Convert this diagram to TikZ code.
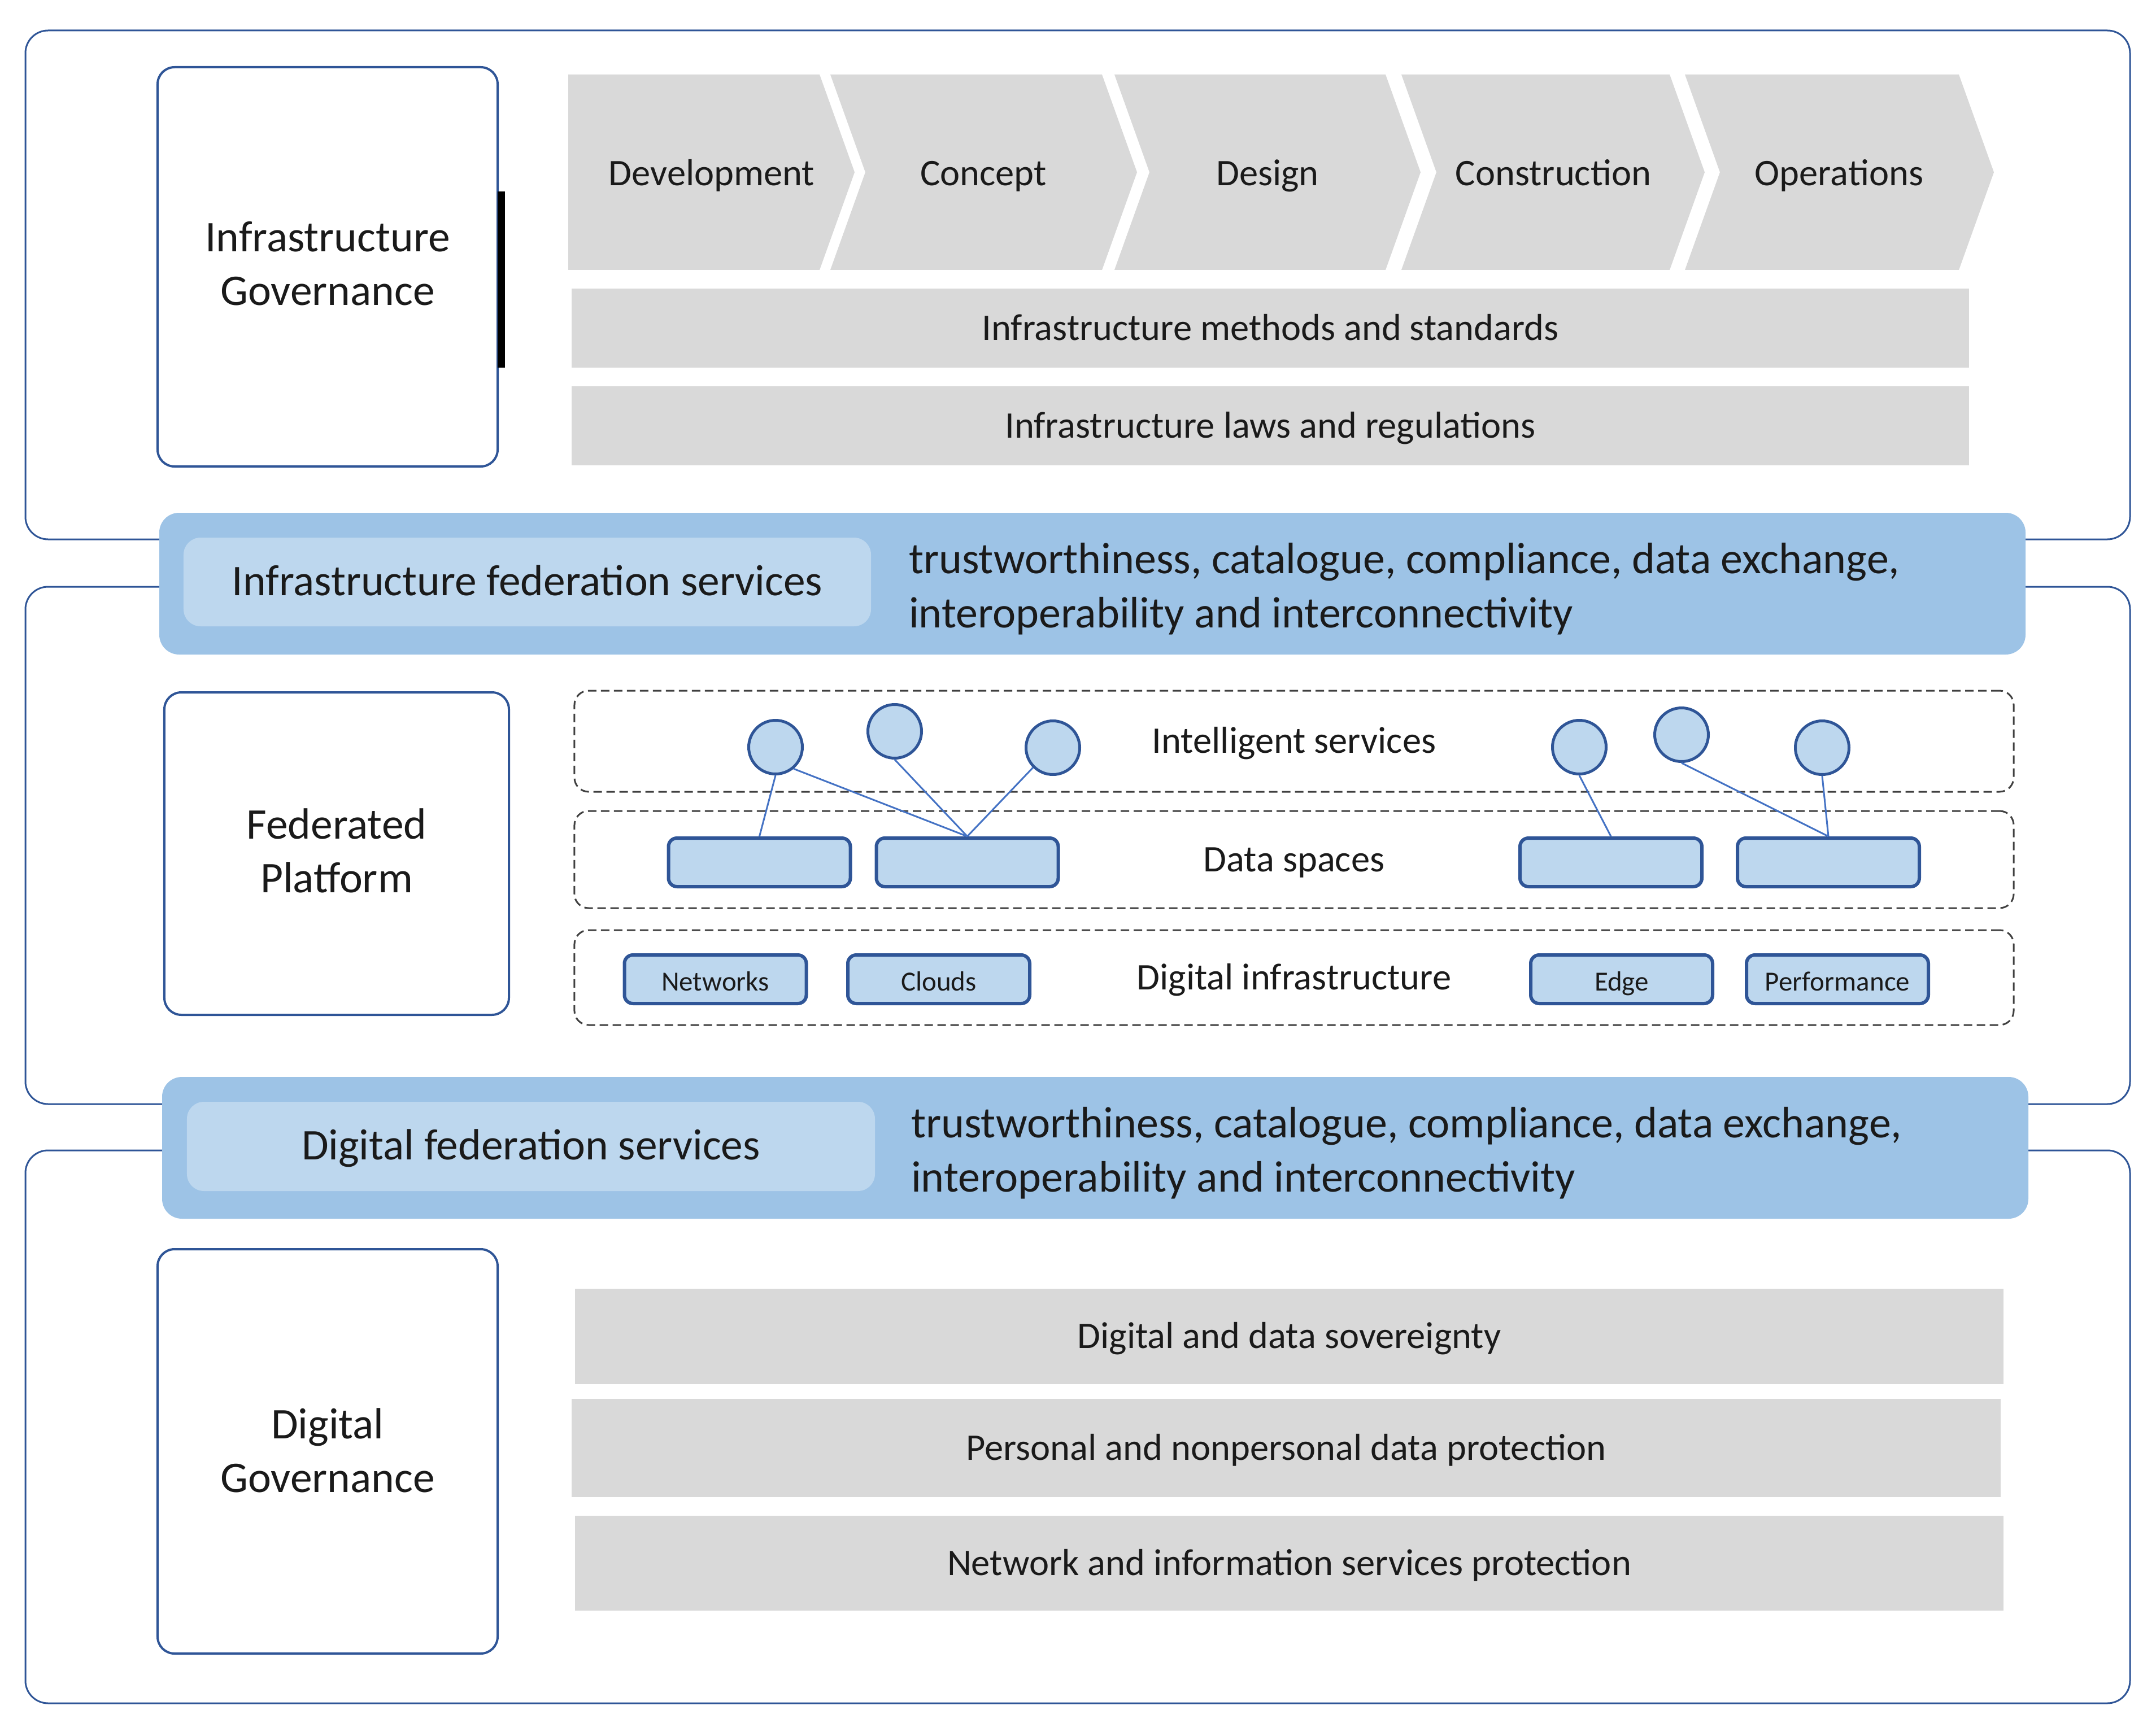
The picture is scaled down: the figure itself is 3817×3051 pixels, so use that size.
\documentclass[tikz,border=0pt]{standalone}
\usepackage{fontspec}
\setmainfont{Carlito}
\usetikzlibrary{shapes.geometric}
\definecolor{frame}{HTML}{2F5597}
\definecolor{link}{HTML}{4472C4}
\definecolor{band}{HTML}{9DC3E6}
\definecolor{bandin}{HTML}{BDD7EE}
\definecolor{grey}{HTML}{D9D9D9}
\definecolor{dash}{HTML}{404040}
\definecolor{txt}{HTML}{1A1A1A}
\tikzset{
  big/.style={font=\fontsize{15.5}{19}\selectfont, text=txt},
  bigone/.style={big, text height=0.95em, text depth=0em},
  mid/.style={font=\fontsize{13.3}{16}\selectfont, text=txt, text height=0.85em, text depth=0em},
  small/.style={font=\fontsize{9.8}{12}\selectfont, text=txt, text height=0.8em, text depth=0em},
  outerbox/.style={draw=frame, line width=0.6pt, rounded corners=8pt},
  govbox/.style={draw=frame, line width=0.8pt, fill=white, rounded corners=6pt, inner sep=0pt},
  govtext/.style={big, align=center, inner sep=0pt},
  greybar/.style={fill=grey, inner sep=0pt, mid, align=center},
  chev/.style={fill=grey},
  bandbox/.style={fill=band, rounded corners=7pt},
  bandinner/.style={fill=bandin, rounded corners=6pt, inner sep=0pt, bigone},
  bandtext/.style={font=\fontsize{15.6}{19.2}\selectfont, text=txt, align=left, anchor=west, inner sep=0pt},
  dashbox/.style={draw=dash, line width=0.6pt, dash pattern=on 3pt off 1.6pt, rounded corners=5pt, inner sep=0pt, mid, minimum width=509.6pt},
  svc/.style={circle, draw=frame, fill=bandin, line width=1pt, minimum size=19pt, inner sep=0pt},
  dsbox/.style={draw=frame, fill=bandin, line width=1.2pt, rounded corners=3pt, inner sep=0pt, minimum width=64.4pt, minimum height=17.2pt, small},
  conn/.style={draw=link, line width=0.6pt},
  chevtext/.style={font=\fontsize{13.3}{16}\selectfont, text=txt, anchor=base},
}
\begin{document}
\begin{tikzpicture}[x=0.2pt,y=-0.2pt]
\useasboundingbox (0,0) rectangle (3817,3051);
\fill[white] (0,0) rectangle (3817,3051);
% outer frames
\draw[outerbox] (45,54) rectangle (3771,955);
\draw[outerbox] (45,1039) rectangle (3771,1955);
\draw[outerbox] (45,2037) rectangle (3771,3016);

% ---------- Infrastructure governance ----------
\node[govbox, minimum width=120.4pt, minimum height=141.4pt] (igov) at (580,472.5) {};
\node[govtext] (igovl) at (580,467) {Infrastructure\\Governance};
\fill[black] (881,339) rectangle (894,651);

\fill[chev] (1006,132) -- (1451,132) -- (1513,305) -- (1451,478) -- (1006,478) -- cycle;
\fill[chev] (1470,132) -- (1951,132) -- (2013,305) -- (1951,478) -- (1470,478) -- (1532,305) -- cycle;
\fill[chev] (1973,132) -- (2453,132) -- (2515,305) -- (2453,478) -- (1973,478) -- (2035,305) -- cycle;
\fill[chev] (2481,132) -- (2956,132) -- (3018,305) -- (2956,478) -- (2481,478) -- (2543,305) -- cycle;
\fill[chev] (2983,132) -- (3468,132) -- (3530,305) -- (3468,478) -- (2983,478) -- (3045,305) -- cycle;
\node[chevtext] (dev) at (1260,329) {Development};
\node[chevtext] (con) at (1741,329) {Concept};
\node[chevtext] (des) at (2244,329) {Design};
\node[chevtext] (cst) at (2750,329) {Construction};
\node[chevtext] (ops) at (3256,329) {Operations};

\node[greybar, minimum width=494.8pt, minimum height=28pt] (meth) at (2249,581) {Infrastructure methods and standards};
\node[greybar, minimum width=494.8pt, minimum height=28pt] (laws) at (2249,754) {Infrastructure laws and regulations};

% ---------- Infrastructure federation band ----------
\fill[bandbox] (282,908) rectangle (3586,1159);
\node[bandinner, minimum width=243.4pt, minimum height=31.4pt] (ifs) at (933.5,1030.5) {Infrastructure federation services};
\node[bandtext] (ifst) at (1608,1043) {trustworthiness, catalogue, compliance, data exchange,\\interoperability and interconnectivity};

% ---------- Federated platform ----------
\node[govbox, minimum width=122pt, minimum height=114.2pt] (fp) at (596,1511.5) {};
\node[govtext] (fpl) at (596,1506) {Federated\\Platform};

\node[dashbox, minimum height=35.8pt] (intel) at (2291,1312.5) {Intelligent services};
\node[dashbox, minimum height=34.4pt] (dsp) at (2291,1522) {Data spaces};
\node[dashbox, minimum height=33.6pt] (dinf) at (2291,1731) {Digital infrastructure};

\node[svc] (c1) at (1373,1323) {};
\node[svc] (c2) at (1584,1295) {};
\node[svc] (c3) at (1864,1324) {};
\node[svc] (c4) at (2796,1323) {};
\node[svc] (c5) at (2977,1301) {};
\node[svc] (c6) at (3226,1324) {};

\node[dsbox] (b1) at (1344.5,1527) {};
\node[dsbox] (b2) at (1712.5,1527) {};
\node[dsbox] (b3) at (2852,1527) {};
\node[dsbox] (b4) at (3237,1527) {};

\draw[conn] (c1.south) -- (b1.north);
\draw[conn] (c1.-50) -- (b2.north);
\draw[conn] (c2.south) -- (b2.north);
\draw[conn] (c3.-135) -- (b2.north);
\draw[conn] (c4.south) -- (b3.north);
\draw[conn] (c5.south) -- (b4.north);
\draw[conn] (c6.south) -- (b4.north);

\node[dsbox] (net) at (1266.5,1734) {Networks};
\node[dsbox] (cld) at (1662,1734) {Clouds};
\node[dsbox] (edg) at (2871,1734) {Edge};
\node[dsbox] (prf) at (3253,1734) {Performance};

% ---------- Digital federation band ----------
\fill[bandbox] (287,1907) rectangle (3591,2158);
\node[bandinner, minimum width=243.6pt, minimum height=31.6pt] (dfs) at (940,2030) {Digital federation services};
\node[bandtext] (dfst) at (1612,2042) {trustworthiness, catalogue, compliance, data exchange,\\interoperability and interconnectivity};

% ---------- Digital governance ----------
\node[govbox, minimum width=120.4pt, minimum height=143.2pt] (dgov) at (580,2570) {};
\node[govtext] (dgovl) at (580,2568) {Digital\\Governance};
\node[greybar, minimum width=505.8pt, minimum height=33.8pt] (sov) at (2282.5,2366.5) {Digital and data sovereignty};
\node[greybar, minimum width=506pt, minimum height=34.8pt] (pdp) at (2277,2564) {Personal and nonpersonal data protection};
\node[greybar, minimum width=505.8pt, minimum height=33.6pt] (nis) at (2282.5,2768) {Network and information services protection};
\end{tikzpicture}
\end{document}
